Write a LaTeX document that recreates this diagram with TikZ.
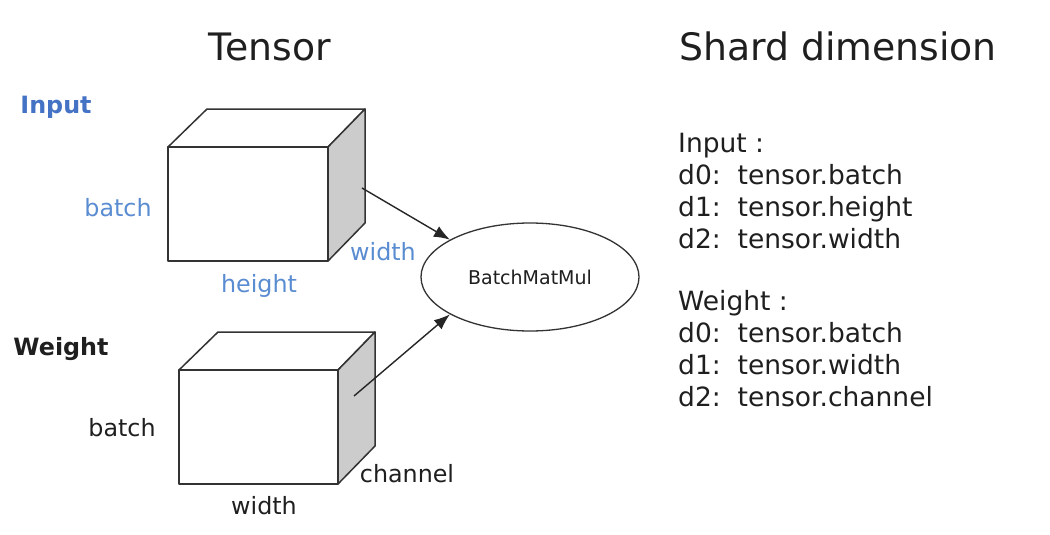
\documentclass[tikz,border=0pt]{standalone}
\usepackage{fontspec}
\setmainfont{DejaVu Sans}
\usepackage{xcolor}
\usetikzlibrary{shapes.geometric,arrows.meta}
\definecolor{inputblue}{RGB}{68, 114, 196}
\definecolor{lightblue}{RGB}{90, 140, 210}
\definecolor{sidegray}{gray}{0.80}
\definecolor{labeltext}{gray}{0.12}
\tikzset{
	facebox/.style={draw=black!80, fill=white, line width=1.5pt, line join=round},
	sideface/.style={draw=black!80, fill=sidegray, line width=1.5pt, line join=round},
	linklabel/.style={font=\fontsize{23.8}{26}\selectfont, text=labeltext, inner sep=0pt},
	bluelabel/.style={font=\fontsize{23.8}{26}\selectfont, text=lightblue, inner sep=0pt},
	linkarrow/.style={-{Latex[length=16pt,width=12pt]}, black!85, line width=1.4pt},
	listing/.style={font=\fontsize{26.5}{32}\selectfont, text=labeltext, align=left, inner sep=0pt, anchor=north west}
}
\begin{document}
\begin{tikzpicture}[x=1pt, y=-1pt]
		\useasboundingbox (0,0) rectangle (1050,535);
		\fill[white] (0,0) rectangle (1050,535);

		% titles
		\node[font=\fontsize{37.8}{40}\selectfont, text=labeltext, inner sep=0pt] (tensortitle) at (270,47) {Tensor};
		\node[font=\fontsize{37.8}{40}\selectfont, text=labeltext, inner sep=0pt] (shardtitle) at (838,46) {Shard dimension};

		% input cube
		\draw[facebox] (168,147) -- (207,109) -- (365,109) -- (328,147) -- cycle;
		\draw[sideface] (328,147) -- (365,109) -- (365,223) -- (328,261) -- cycle;
		\draw[facebox] (168,147) rectangle (328,261);
		\coordinate (inputface) at (362,188);
		\node[font=\bfseries\fontsize{23.8}{26}\selectfont, text=inputblue, inner sep=0pt] (inputlabel) at (56,107.5) {Input};
		\node[bluelabel] (inputbatch) at (118,208) {batch};
		\node[bluelabel] (inputheight) at (259,285.5) {height};
		\node[bluelabel] (inputwidth) at (383,252) {width};

		% weight cube
		\draw[facebox] (179,370) -- (218,332) -- (375,332) -- (338,370) -- cycle;
		\draw[sideface] (338,370) -- (375,332) -- (375,446) -- (338,484) -- cycle;
		\draw[facebox] (179,370) rectangle (338,484);
		\coordinate (weightface) at (354,396);
		\node[font=\bfseries\fontsize{23.8}{26}\selectfont, text=labeltext, inner sep=0pt] (weightlabel) at (61,349.5) {Weight};
		\node[linklabel] (weightbatch) at (122,428) {batch};
		\node[linklabel] (weightwidth) at (264,506) {width};
		\node[linklabel] (weightchannel) at (407,474) {channel};

		% op
		\node[draw=black!80, fill=white, ellipse, line width=1.3pt, minimum width=218pt, minimum height=108pt, inner sep=0pt, font=\fontsize{19}{22}\selectfont, text=labeltext] (batchop) at (530,277) {BatchMatMul};
		\draw[linkarrow] (inputface) -- (batchop.155);
		\draw[linkarrow] (weightface) -- (batchop.205);

		% shard lists
		\node[listing] (inputdims) at (678,133) {Input :\\d0:\ \ tensor.batch\\d1:\ \ tensor.height\\d2:\ \ tensor.width};
		\node[listing] (weightdims) at (678,290) {Weight :\\d0:\ \ tensor.batch\\d1:\ \ tensor.width\\d2:\ \ tensor.channel};
	\end{tikzpicture}
\end{document}
